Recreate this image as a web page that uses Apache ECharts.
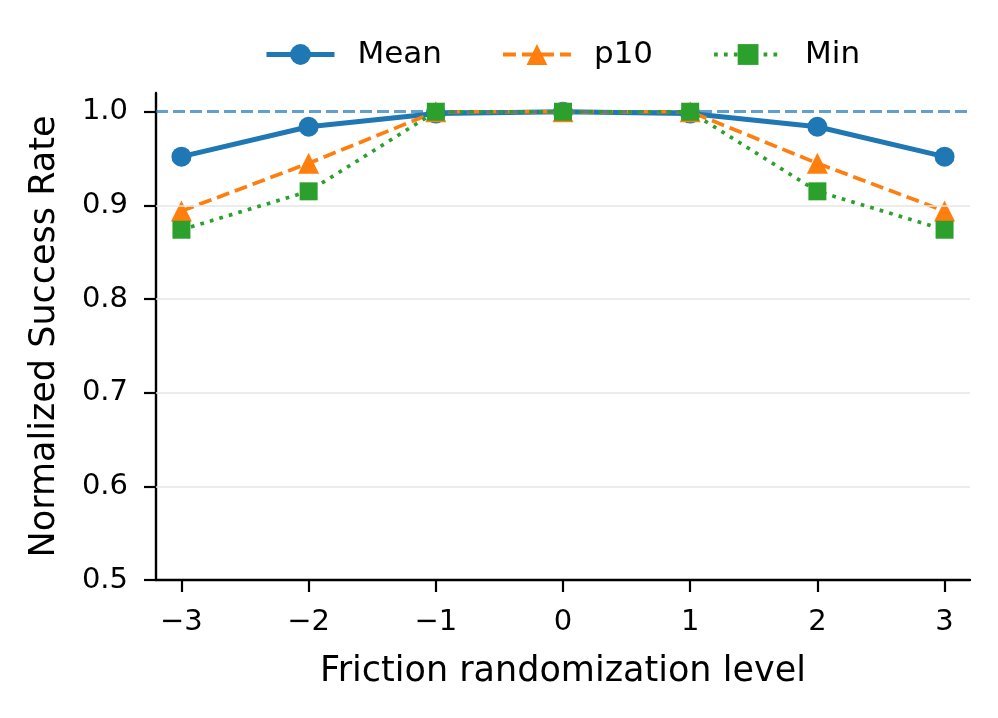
<!DOCTYPE html>
<html>
<head>
<meta charset="utf-8">
<script src="https://cdn.jsdelivr.net/npm/echarts@6/dist/echarts.min.js"></script>
<style>html,body{margin:0;padding:0;background:#fff}#c{width:998px;height:718px}</style>
</head>
<body>
<div id="c"></div>
<script>
const levels = [-3, -2, -1, 0, 1, 2, 3];
const meanVals = [0.952, 0.984, 0.998, 1.0, 0.998, 0.984, 0.952];
const p10Vals = [0.894, 0.945, 1.0, 1.0, 1.0, 0.945, 0.894];
const minVals = [0.874, 0.915, 1.0, 1.0, 1.0, 0.915, 0.874];
const yTicks = [0.5, 0.6, 0.7, 0.8, 0.9, 1.0];
const gridLines = [0.6, 0.7, 0.8, 0.9];
const refLine = 1.0;

const font = 'DejaVu Sans';
const pair = arr => levels.map((x, i) => [x, arr[i]]);

const chart = echarts.init(document.getElementById('c'), null, {renderer: 'canvas'});
chart.setOption({
  animation: false,
  textStyle: {fontFamily: font, color: '#000'},
  grid: {left: 156, right: 28, top: 93, bottom: 138, containLabel: false},
  legend: {
    top: 39, left: 264, padding: 0,
    itemWidth: 68, itemHeight: 26, itemGap: 59,
    textStyle: {fontFamily: font, fontSize: 31, color: '#000', padding: [0, 0, 0, 18]},
    data: [
      {name: 'Mean', lineStyle: {width: 5}},
      {name: 'p10', lineStyle: {width: 4}},
      {name: 'Min', lineStyle: {width: 4}}
    ]
  },
  xAxis: {
    type: 'value', min: -3.2, max: 3.2,
    name: 'Friction randomization level', nameLocation: 'middle', nameGap: 74,
    nameTextStyle: {fontFamily: font, fontSize: 35, color: '#000'},
    axisLine: {show: true, onZero: false, lineStyle: {color: '#000', width: 2.4}},
    axisTick: {show: true, inside: false, length: 12, lineStyle: {color: '#000', width: 2.2}, customValues: levels},
    axisLabel: {fontFamily: font, fontSize: 29, color: '#000', margin: 28, customValues: levels,
      formatter: v => (v < 0 ? '\u2212' + Math.abs(v) : String(v))},
    splitLine: {show: false}
  },
  yAxis: {
    type: 'value', min: 0.5, max: 1.02,
    name: 'Normalized Success Rate', nameLocation: 'middle', nameGap: 94,
    nameTextStyle: {fontFamily: font, fontSize: 35, color: '#000'},
    axisLine: {show: true, onZero: false, lineStyle: {color: '#000', width: 2.4}},
    axisTick: {show: true, inside: false, length: 12, lineStyle: {color: '#000', width: 2.2}, customValues: yTicks},
    axisLabel: {fontFamily: font, fontSize: 29, color: '#000', margin: 28, customValues: yTicks,
      formatter: v => v.toFixed(1)},
    splitLine: {show: false}
  },
  series: [
    {
      name: 'grid', type: 'line', data: [], silent: true,
      markLine: {
        silent: true, symbol: 'none', label: {show: false},
        data: gridLines.map(v => ({yAxis: v, lineStyle: {color: '#e6e6e6', width: 1.6, type: 'solid'}}))
      }
    },
    {
      name: 'Mean', type: 'line', data: pair(meanVals),
      symbol: 'circle', symbolSize: 20,
      lineStyle: {color: '#1f77b4', width: 5},
      itemStyle: {color: '#1f77b4'}, z: 3
    },
    {
      name: 'p10', type: 'line', data: pair(p10Vals),
      symbol: 'triangle', symbolSize: 21,
      lineStyle: {color: '#ff7f0e', width: 3.7, type: [13, 6]},
      itemStyle: {color: '#ff7f0e'}, z: 4
    },
    {
      name: 'Min', type: 'line', data: pair(minVals),
      symbol: 'rect', symbolSize: 18,
      lineStyle: {color: '#2ca02c', width: 3.7, type: [3.7, 6.2]},
      itemStyle: {color: '#2ca02c'}, z: 5,
      markLine: {
        silent: true, symbol: 'none', label: {show: false},
        data: [{yAxis: refLine}],
        lineStyle: {color: 'rgba(31,119,180,0.7)', width: 3, type: [12, 5]}
      }
    }
  ]
});
</script>
</body>
</html>
